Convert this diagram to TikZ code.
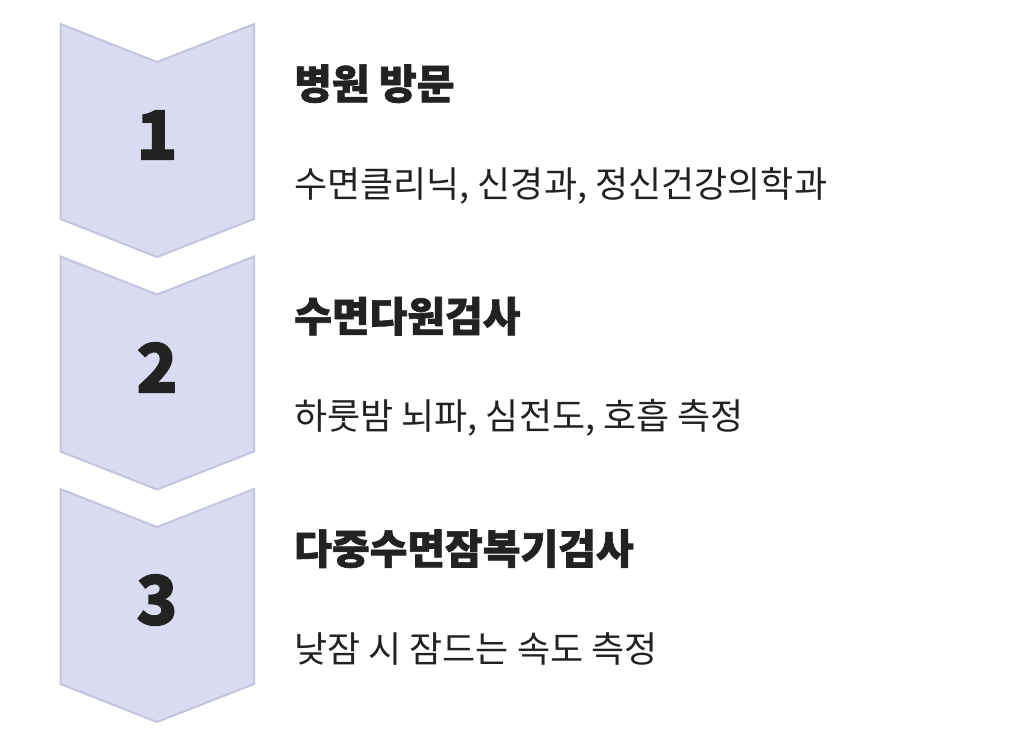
\documentclass[tikz,border=0pt]{standalone}
\usepackage{fontspec}
\setmainfont{Noto Sans CJK KR}
\newfontfamily\heavy{Noto Sans CJK KR Black}[RawFeature={embolden=1.6}]
\usepackage{xcolor}
\definecolor{chevfill}{HTML}{DADBF0}
\definecolor{chevline}{HTML}{C3C4DD}
\definecolor{ink}{HTML}{222222}
\tikzset{chev/.style={fill=chevfill,draw=chevline,line width=2pt,line join=miter},
  num/.style={text=ink,font=\fontsize{68}{68}\selectfont\heavy,inner sep=0pt},
  title/.style={anchor=base west,text=ink,font=\fontsize{41}{41}\selectfont\heavy,inner sep=0pt},
  desc/.style={anchor=base west,text=ink,font=\fontsize{36}{36}\selectfont,inner sep=0pt}}
\begin{document}
\begin{tikzpicture}[x=1pt,y=-1pt]
    \useasboundingbox (0,0) rectangle (1026,748);
    \foreach \i in {0,1,2}{
        \draw[chev] (60.5,24+232.5*\i) -- (157,62+232.5*\i) -- (254,24+232.5*\i)
            -- (254,219+232.5*\i) -- (157,257+232.5*\i) -- (60.5,219+232.5*\i) -- cycle;
    }
    \node[num] (n1) at (157,135) {1};
    \node[num] (n2) at (157,367.5) {2};
    \node[num] (n3) at (157,600) {3};

    \node[title] (visit) at (294,99) {병원 방문};
    \node[desc] (visitd) at (294,197) {수면클리닉, 신경과, 정신건강의학과};
    \node[title] (psg) at (294,331.5) {수면다원검사};
    \node[desc] (psgd) at (294,429.5) {하룻밤 뇌파, 심전도, 호흡 측정};
    \node[title] (mslt) at (294,564) {다중수면잠복기검사};
    \node[desc] (msltd) at (294,662) {낮잠 시 잠드는 속도 측정};
\end{tikzpicture}
\end{document}
